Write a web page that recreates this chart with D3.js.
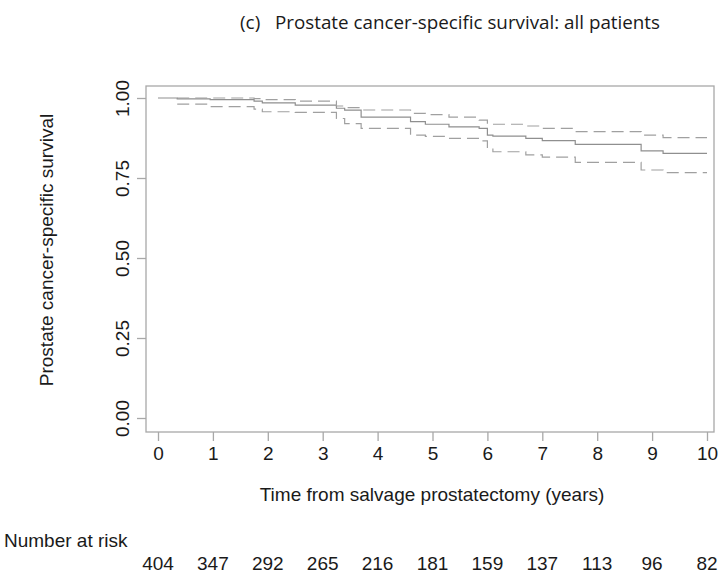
<!DOCTYPE html>
<html><head><meta charset="utf-8">
<script src="https://cdn.jsdelivr.net/npm/d3@7"></script>
<style>body{margin:0;background:#fff}svg{display:block}</style>
</head><body>
<script>
const times    = [0, 0.35, 0.95, 1.75, 1.9, 2.5, 3.25, 3.4, 3.7, 4.6, 4.87, 5.3, 5.85, 6.0, 6.1, 6.7, 7.0, 7.6, 8.8, 9.2, 10];
const survival = [1.0, 0.997, 0.995, 0.99, 0.985, 0.978, 0.968, 0.962, 0.94, 0.926, 0.918, 0.91, 0.905, 0.884, 0.881, 0.874, 0.867, 0.855, 0.835, 0.827, 0.827];
const upperCI  = [null, 1.0, 1.0, 0.998, 0.995, 0.99, 0.975, 0.97, 0.9625, 0.952, 0.948, 0.94, 0.931, 0.918, 0.918, 0.9125, 0.905, 0.895, 0.884, 0.876, 0.876];
const lowerCI  = [null, 0.981, 0.973, 0.965, 0.957, 0.955, 0.936, 0.92, 0.905, 0.884, 0.88, 0.874, 0.866, 0.843, 0.832, 0.822, 0.815, 0.799, 0.775, 0.767, 0.767];
const xTicks = [0,1,2,3,4,5,6,7,8,9,10];
const yTicks = [0, 0.25, 0.5, 0.75, 1.0];
const atRisk = [404, 347, 292, 265, 216, 181, 159, 137, 113, 96, 82];

const W = 724, H = 573;
const svg = d3.select("body").append("svg").attr("width", W).attr("height", H);
const x = d3.scaleLinear().domain([0, 10]).range([158, 707]);
const y = d3.scaleLinear().domain([0, 1]).range([418, 98]);
const box = {l: 146, r: 714, t: 86, b: 432};
const gray = "#a8a8a8";
const txt = "#1a1a1a";
const font = "Liberation Sans, Arial, sans-serif";
const fs = 19;

// title
svg.append("text").attr("x", 240).attr("y", 29).attr("font-family", "Open Sans, sans-serif")
  .attr("font-size", 19).attr("fill", txt).text("(c)");
svg.append("text").attr("x", 275).attr("y", 29).attr("font-family", "Open Sans, sans-serif")
  .attr("font-size", 19).attr("fill", txt).attr("textLength", 385).attr("lengthAdjust", "spacingAndGlyphs")
  .text("Prostate cancer-specific survival: all patients");

// box
svg.append("rect").attr("x", box.l).attr("y", box.t).attr("width", box.r - box.l).attr("height", box.b - box.t)
  .attr("fill", "none").attr("stroke", gray).attr("stroke-width", 1.3);

// x axis
const xa = svg.append("g").attr("transform", `translate(0,${box.b})`)
  .call(d3.axisBottom(x).tickValues(xTicks).tickSize(9).tickPadding(6).tickFormat(d3.format("d")));
xa.select(".domain").remove();
xa.selectAll(".tick line").attr("stroke", gray).attr("stroke-width", 1.3);
xa.selectAll(".tick text").attr("font-family", font).attr("font-size", fs).attr("fill", txt);

// y axis
const ya = svg.append("g").attr("transform", `translate(${box.l},0)`)
  .call(d3.axisLeft(y).tickValues(yTicks).tickSize(9).tickPadding(0).tickFormat(d3.format(".2f")));
ya.select(".domain").remove();
ya.selectAll(".tick line").attr("stroke", gray).attr("stroke-width", 1.3);
ya.selectAll(".tick text").attr("font-family", font).attr("font-size", fs).attr("fill", txt)
  .attr("text-anchor", "middle").attr("x", 0).attr("dy", 0)
  .attr("transform", "translate(-17,0) rotate(-90)");

// axis titles
svg.append("text").attr("transform", "translate(53,250) rotate(-90)").attr("text-anchor", "middle")
  .attr("font-family", font).attr("font-size", fs).attr("fill", txt).text("Prostate cancer-specific survival");
svg.append("text").attr("x", 432).attr("y", 501).attr("text-anchor", "middle")
  .attr("font-family", font).attr("font-size", fs).attr("fill", txt).text("Time from salvage prostatectomy (years)");

// curves
const idx = d3.range(times.length);
const line = (arr) => d3.line().defined(i => arr[i] != null).x(i => x(times[i])).y(i => y(arr[i])).curve(d3.curveStepAfter);
svg.append("path").datum(idx).attr("d", line(survival)).attr("fill", "none").attr("stroke", "#8f8f8f").attr("stroke-width", 1.2);
svg.append("path").datum(idx).attr("d", line(upperCI)).attr("fill", "none").attr("stroke", "#a0a0a0").attr("stroke-width", 1.2).attr("stroke-dasharray", "12,6");
svg.append("path").datum(idx).attr("d", line(lowerCI)).attr("fill", "none").attr("stroke", "#a0a0a0").attr("stroke-width", 1.2).attr("stroke-dasharray", "12,6");

// number at risk
svg.append("text").attr("x", 4).attr("y", 547).attr("font-family", font).attr("font-size", fs).attr("fill", txt).text("Number at risk");
svg.selectAll(".risk").data(atRisk).join("text").attr("class", "risk")
  .attr("x", (d, i) => x(xTicks[i])).attr("y", 570).attr("text-anchor", "middle")
  .attr("font-family", font).attr("font-size", fs).attr("fill", txt).text(d => d);
</script>
</body></html>
